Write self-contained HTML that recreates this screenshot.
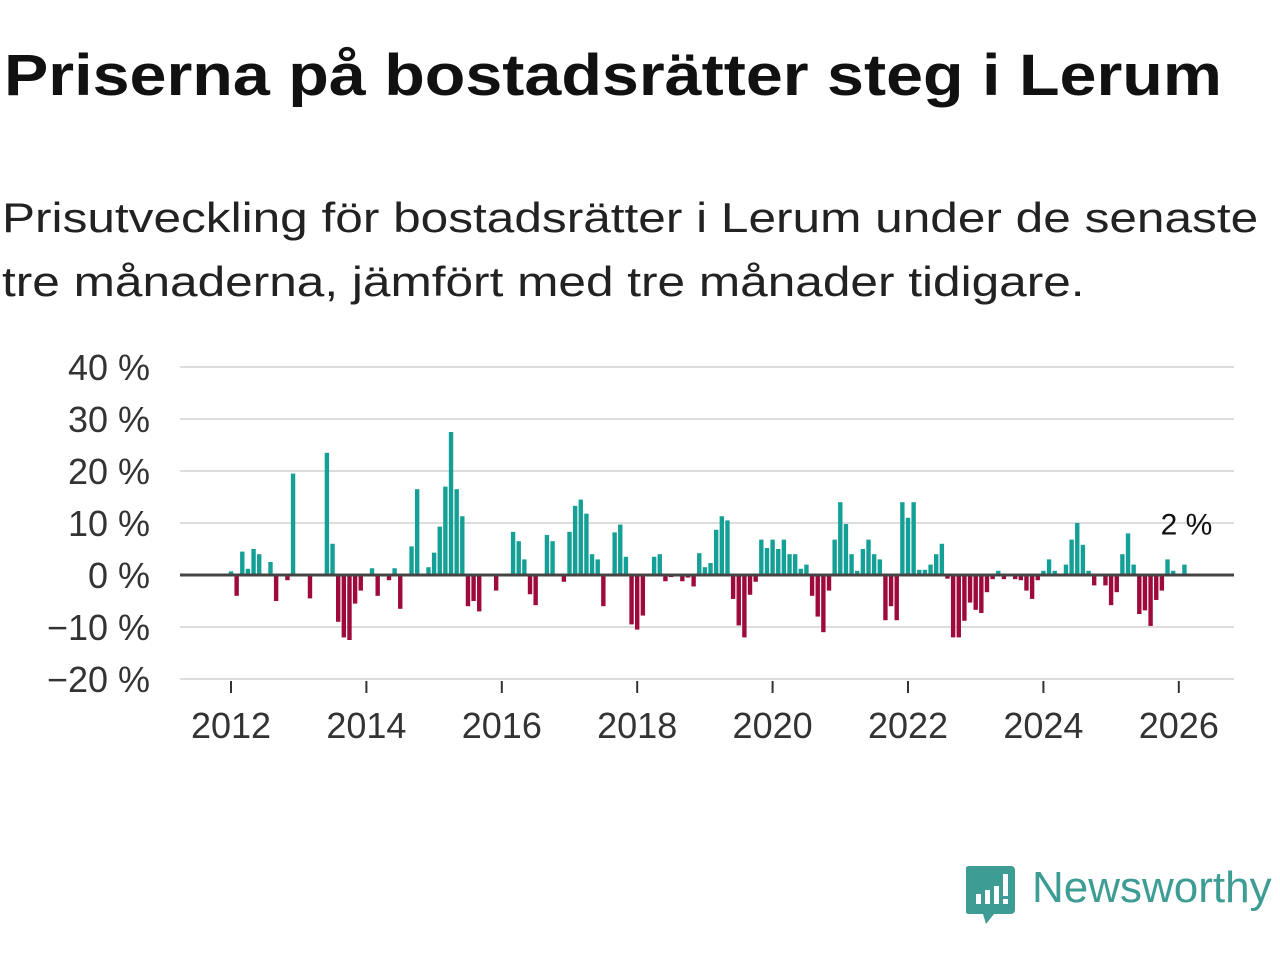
<!DOCTYPE html>
<html><head><meta charset="utf-8"><style>
body{margin:0;width:1280px;height:960px;background:#fff;font-family:"Liberation Sans","DejaVu Sans",sans-serif;overflow:hidden;position:relative}
h1{position:absolute;left:4px;top:42px;margin:0;font-size:58px;font-weight:bold;color:#111;transform-origin:0 0;transform:scaleX(1.145);white-space:nowrap}
.sub{position:absolute;left:2px;top:186px;font-size:42px;line-height:64px;color:#222;transform-origin:0 0;transform:scaleX(1.18);white-space:nowrap}
</style></head><body>
<h1>Priserna på bostadsrätter steg i Lerum</h1>
<div class="sub">Prisutveckling för bostadsrätter i Lerum under de senaste<br>tre månaderna, jämfört med tre månader tidigare.</div>
<svg id="chart" width="1280" height="960" style="position:absolute;left:0;top:0"></svg>
<div style="position:absolute;left:966px;top:866px;width:314px;height:60px">
<svg width="50" height="60" style="position:absolute;left:0;top:0"><path d="M3 0h42a4 4 0 0 1 4 4v40a4 4 0 0 1-4 4H28l-8 10-3-10H3a4 4 0 0 1-4-4V4a4 4 0 0 1 4-4z" fill="#3d9c93"/><rect x="10" y="28" width="5" height="10" fill="#fff"/><rect x="19" y="24" width="5" height="14" fill="#fff"/><rect x="28" y="20" width="5" height="18" fill="#fff"/><rect x="37" y="8" width="5" height="22" fill="#fff"/><rect x="37" y="33" width="5" height="5" fill="#fff"/></svg>
<div style="position:absolute;left:66px;top:-3px;font-size:44px;color:#3d9c93">Newsworthy</div>
</div>
<script>
const values=[0.7,-4,4.5,1.2,5,4,0,2.5,-5,0,-1,19.5,0,0,-4.5,0,0,23.5,6,-9,-12,-12.5,-5.5,-3,0,1.3,-4,0,-1,1.3,-6.5,0,5.5,16.5,0,1.5,4.3,9.3,17,27.5,16.5,11.3,-6,-5,-7,0,0,-3,0,0,8.3,6.5,3,-3.7,-5.8,0,7.7,6.5,0,-1.3,8.3,13.3,14.5,11.8,4,3,-6,0,8.2,9.7,3.5,-9.5,-10.5,-7.8,0,3.5,4,-1.2,-0.4,0,-1.2,-0.5,-2.2,4.2,1.5,2.3,8.7,11.3,10.5,-4.6,-9.7,-12,-3.8,-1.3,6.8,5.2,6.8,5,6.8,4,4,1.2,2,-4,-8,-11,-3,6.8,14,9.8,4,0.8,5,6.8,4,3,-8.7,-6,-8.7,14,11,14,1,1,2,4,6,-0.7,-12,-12,-8.8,-5.3,-6.7,-7.3,-3.3,-0.8,0.8,-0.8,0,-0.8,-1,-3,-4.6,-1,0.8,3,0.8,0,2,6.8,10,5.8,0.8,-2,0,-2,-5.8,-3.3,4,8,2,-7.5,-6.8,-9.8,-4.8,-3,3,0.8,0,2];
const startYear=2012;
const yTicks=[40,30,20,10,0,-10,-20];
const xTicks=[2012,2014,2016,2018,2020,2022,2024,2026];
const lastLabel="2 %";
const svg=document.getElementById('chart');const NS='http://www.w3.org/2000/svg';
const x0=231,pxYear=67.7;const y0=575,pxPct=5.2;
const xs=m=>x0+m*pxYear/12;const ys=v=>y0-v*pxPct;
function mk(t,a){const e=document.createElementNS(NS,t);for(const k in a)e.setAttribute(k,a[k]);svg.appendChild(e);return e;}
yTicks.forEach(v=>{
const g=mk('line',{x1:180,x2:1234,y1:ys(v),y2:ys(v),stroke:'#ddd','stroke-width':2});


const t=mk('text',{x:150,y:ys(v)+13,'text-anchor':'end','font-size':36,fill:'#333','font-family':'Liberation Sans,sans-serif'});
t.textContent=(v<0?'\u2212'+(-v):v)+' %';


});
values.forEach((v,i)=>{
const x=xs(i);const h=Math.abs(v)*pxPct;
const r=mk('rect',{x:x-2.2,y:v>=0?ys(v):y0,width:4.4,height:h,fill:v>=0?'#15a097':'#9e0a3c'});


});
const z=mk('line',{x1:180,x2:1234,y1:y0,y2:y0,stroke:'#444','stroke-width':3});


xTicks.forEach(yr=>{
const x=xs((yr-startYear)*12);
const l=mk('line',{x1:x,x2:x,y1:681,y2:693,stroke:'#333','stroke-width':2});


const t=mk('text',{x:x,y:738,'text-anchor':'middle','font-size':36,fill:'#333','font-family':'Liberation Sans,sans-serif'});
t.textContent=yr;


});
const li=values.length-1;
const lb=mk('text',{x:xs(li)+2,y:ys(values[li])-30,'text-anchor':'middle','font-size':30,fill:'#111','font-family':'Liberation Sans,sans-serif'});
lb.textContent=lastLabel;


</script>
</body></html>
